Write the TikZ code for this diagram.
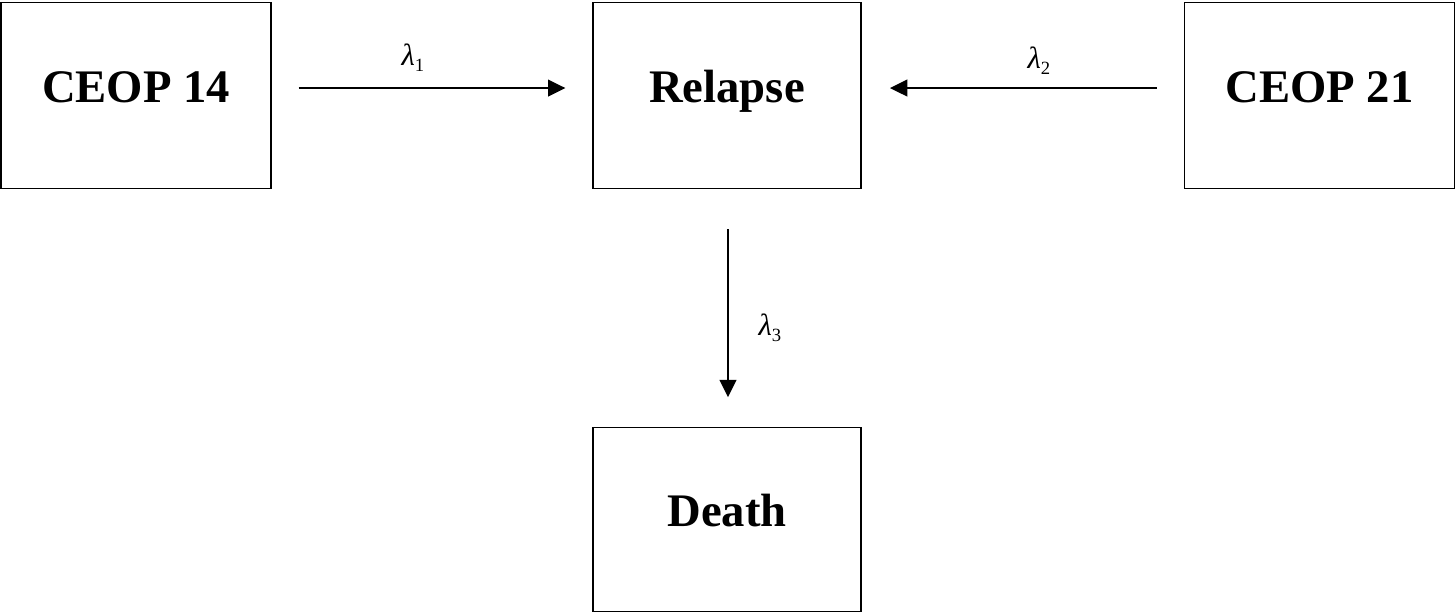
\documentclass[tikz,border=0pt]{standalone}
\usepackage{fontspec}
\setmainfont{Liberation Serif}
\usetikzlibrary{arrows.meta}
\begin{document}
\begin{tikzpicture}[x=0.75pt,y=-0.75pt,
  statebox/.style={draw=black, line width=1.4pt, rectangle, inner sep=0pt,
    text height=25pt, text depth=15pt,
    font=\fontsize{35}{35}\selectfont\bfseries},
  flow/.style={line width=1.4pt, -{Triangle[length=13pt,width=12.5pt]}},
  rate/.style={font=\fontsize{23}{23}\selectfont, inner sep=0pt}]
\useasboundingbox (0,0) rectangle (1455,612);
\node[statebox, minimum width=270*0.75pt, minimum height=186*0.75pt] (c14) at (136,95.5) {CEOP 14};
\node[statebox, minimum width=268*0.75pt, minimum height=186*0.75pt] (rel) at (727,95.5) {Relapse};
\node[statebox, minimum width=270*0.75pt, minimum height=186*0.75pt] (c21) at (1319.5,95.5) {CEOP 21};
\node[statebox, minimum width=268*0.75pt, minimum height=184*0.75pt] (dea) at (727,519.5) {Death};
\draw[flow, shorten <=20pt, shorten >=20pt] ([yshift=5.6pt]c14.east) -- ([yshift=5.6pt]rel.west);
\draw[flow, shorten <=20pt, shorten >=21pt] ([yshift=5.6pt]c21.west) -- ([yshift=5.6pt]rel.east);
\draw[flow, shorten <=30pt, shorten >=22pt] ([xshift=0.75pt]rel.south) -- ([xshift=0.75pt]dea.north);
\node[rate] (l1) at (413,58) {\itshape λ\raisebox{-0.45ex}{\fontsize{14}{14}\selectfont\upshape 1}};
\node[rate] (l2) at (1039,61) {\itshape λ\raisebox{-0.45ex}{\fontsize{14}{14}\selectfont\upshape 2}};
\node[rate] (l3) at (770,328) {\itshape λ\raisebox{-0.45ex}{\fontsize{14}{14}\selectfont\upshape 3}};
\end{tikzpicture}
\end{document}
